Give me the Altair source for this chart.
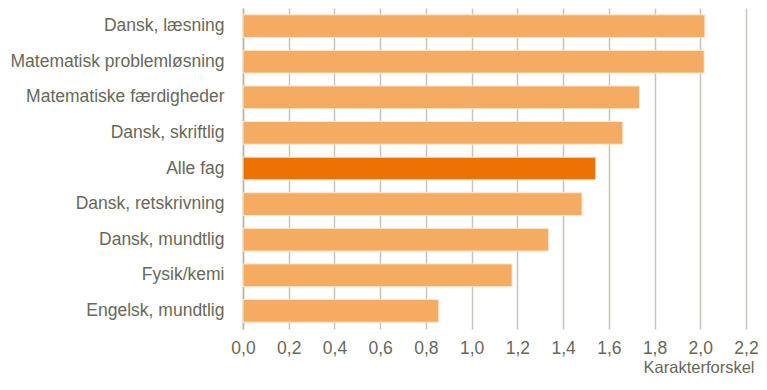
import altair as alt
import pandas as pd

categories = [
    "Dansk, læsning",
    "Matematisk problemløsning",
    "Matematiske færdigheder",
    "Dansk, skriftlig",
    "Alle fag",
    "Dansk, retskrivning",
    "Dansk, mundtlig",
    "Fysik/kemi",
    "Engelsk, mundtlig",
]
values = [2.02, 2.017, 1.734, 1.661, 1.543, 1.483, 1.336, 1.177, 0.856]
group = ["fag", "fag", "fag", "fag", "alle", "fag", "fag", "fag", "fag"]
x_ticks = [0.0, 0.2, 0.4, 0.6, 0.8, 1.0, 1.2, 1.4, 1.6, 1.8, 2.0, 2.2]

df = pd.DataFrame({"fag": categories, "forskel": values, "gruppe": group})

TEXT = "#68685a"
FONT = "Liberation Sans"

chart = (
    alt.Chart(df)
    .mark_bar(stroke="#fde6cf", strokeWidth=1)
    .encode(
        y=alt.Y(
            "fag:N",
            sort=categories,
            scale=alt.Scale(paddingInner=0.362, paddingOuter=0.19),
            axis=alt.Axis(
                title=None,
                ticks=False,
                domain=True,
                domainColor="#b8b8aa",
                domainWidth=1.5,
                labelFont=FONT,
                labelFontSize=17.5,
                labelColor=TEXT,
                labelPadding=19,
                labelLimit=260,
            ),
        ),
        x=alt.X(
            "forskel:Q",
            scale=alt.Scale(domain=[0, 2.2], nice=False),
            axis=alt.Axis(
                values=x_ticks,
                title="Karakterforskel",
                labelExpr="replace(format(datum.value, '.1f'), '.', ',')",
                grid=True,
                gridColor="#c6c6b8",
                gridWidth=1.5,
                domain=False,
                ticks=False,
                labelFont=FONT,
                labelFontSize=17.5,
                labelColor=TEXT,
                labelPadding=10,
                labelFlush=False,
                titleFont=FONT,
                titleFontSize=16.5,
                titleFontWeight="normal",
                titleColor=TEXT,
                titleAnchor="end",
                titleAlign="right",
                titleX=511,
                titleY=43,
                titleBaseline="alphabetic",
            ),
        ),
        color=alt.Color(
            "gruppe:N",
            scale=alt.Scale(domain=["fag", "alle"], range=["#F6AB62", "#EE7203"]),
            legend=None,
        ),
    )
    .properties(
        width=503,
        height=321,
        autosize=alt.AutoSizeParams(type="none"),
        padding={"left": 235, "top": 0, "right": 12, "bottom": 48},
    )
    .configure_view(stroke=None)
)

chart.save("out.html", embed_options={"renderer": "svg", "actions": False})
